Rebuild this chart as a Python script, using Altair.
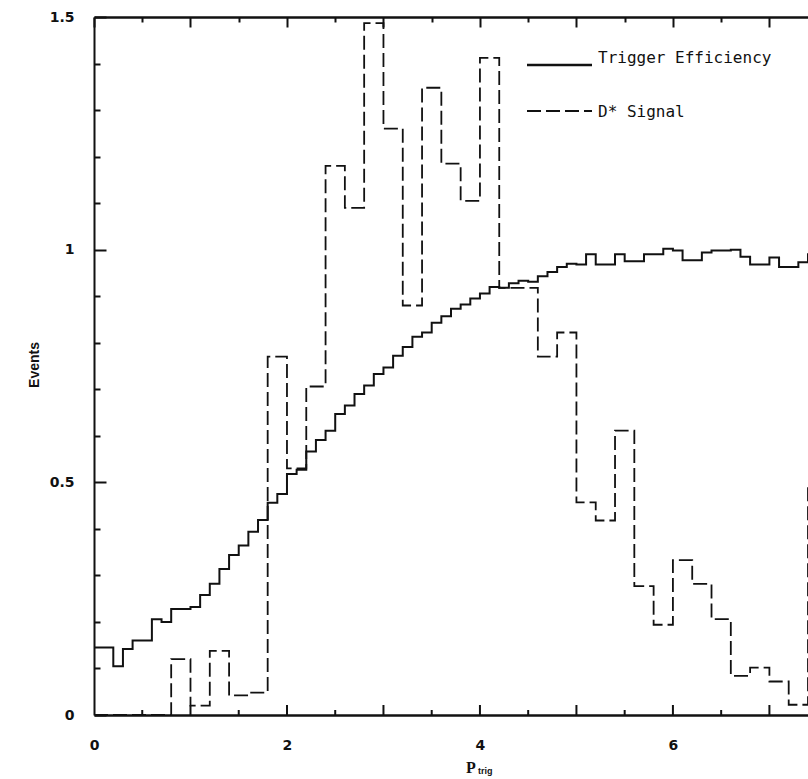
import altair as alt
import pandas as pd

# Trigger efficiency, histogram with 0.1-wide bins starting at p = 0
eff_values = [
    0.145, 0.145, 0.105, 0.142, 0.160, 0.160, 0.206, 0.200, 0.228, 0.228,
    0.232, 0.258, 0.282, 0.314, 0.344, 0.364, 0.394, 0.419, 0.456, 0.475,
    0.518, 0.527, 0.566, 0.591, 0.611, 0.647, 0.665, 0.690, 0.708, 0.733,
    0.747, 0.772, 0.791, 0.813, 0.822, 0.843, 0.857, 0.873, 0.882, 0.895,
    0.906, 0.920, 0.918, 0.928, 0.933, 0.931, 0.943, 0.952, 0.963, 0.970,
    0.968, 0.990, 0.968, 0.968, 0.990, 0.975, 0.975, 0.990, 0.990, 1.002,
    0.998, 0.977, 0.977, 0.994, 0.998, 0.998, 1.000, 0.985, 0.968, 0.968,
    0.983, 0.963, 0.963, 0.973, 0.990,
]
eff_bin = 0.1

# D* signal, histogram with 0.2-wide bins starting at p = 0
sig_values = [
    0.0, 0.0, 0.0, 0.0, 0.120, 0.020, 0.138, 0.042, 0.048, 0.770,
    0.530, 0.706, 1.180, 1.090, 1.487, 1.260, 0.880, 1.348, 1.185, 1.105,
    1.412, 0.918, 0.918, 0.770, 0.822, 0.457, 0.418, 0.611, 0.277, 0.194,
    0.333, 0.282, 0.206, 0.084, 0.102, 0.072, 0.022, 0.490,
]
sig_bin = 0.2

x_ticks = [0, 0.5, 1, 1.5, 2, 2.5, 3, 3.5, 4, 4.5, 5, 5.5, 6, 6.5, 7]
x_minor = [0.5, 1.5, 2.5, 3.5, 4.5, 5.5, 6.5]
x_major = [1, 2, 3, 4, 5, 6, 7]
x_labels = [0, 2, 4, 6]
y_ticks = [0, 0.1, 0.2, 0.3, 0.4, 0.5, 0.6, 0.7, 0.8, 0.9,
           1.0, 1.1, 1.2, 1.3, 1.4, 1.5]
y_labels = [0, 0.5, 1, 1.5]


def step_table(values, width):
    edges = [round(i * width, 3) for i in range(len(values) + 1)]
    return pd.DataFrame({"p": edges, "v": list(values) + [values[-1]]})


eff_df = step_table(eff_values, eff_bin)
sig_df = step_table(sig_values, sig_bin)

W, H = 714, 698
INK = "#111111"
Y_MAX = 1.5
x_scale = alt.Scale(domain=[0, 7.4], nice=False, zero=False)
y_scale = alt.Scale(domain=[0, Y_MAX], nice=False, zero=False)

x_tick_len = {"condition": {"test": "abs(datum.value - round(datum.value)) < 1e-6", "value": 10}, "value": 5}
y_tick_len = {"condition": {"test": "abs(datum.value * 2 - round(datum.value * 2)) < 1e-6", "value": 12}, "value": 6}

label_font = "DejaVu Sans"

# Solid efficiency histogram; carries the labelled bottom and left axes
eff_line = alt.Chart(eff_df).mark_line(
    interpolate="step-after", color=INK, strokeWidth=2, clip=True
).encode(
    x=alt.X("p:Q", scale=x_scale, axis=alt.Axis(
        orient="bottom", values=x_labels, ticks=False, tickSize=0,
        labelPadding=23, labelFont=label_font, labelFontSize=14,
        labelFontWeight="bold", labelColor=INK, labelFlush=False,
        domainColor=INK, domainWidth=2.5, grid=False, title=None)),
    y=alt.Y("v:Q", scale=y_scale, axis=alt.Axis(
        orient="left", values=y_labels, format="~g", ticks=False, tickSize=0,
        labelPadding=20, labelFont=label_font, labelFontSize=14,
        labelFontWeight="bold", labelColor=INK, labelFlush=False,
        domainColor=INK, domainWidth=2, grid=False, title=None)),
)

# Dashed D* signal histogram; carries the inward ticks on the left edge
sig_line = alt.Chart(sig_df).mark_line(
    interpolate="step-after", color=INK, strokeWidth=1.8, strokeDash=[14, 5], clip=True
).encode(
    x=alt.X("p:Q", scale=x_scale, axis=None),
    y=alt.Y("v:Q", scale=y_scale, axis=alt.Axis(
        orient="right", offset=-W, values=y_ticks, labels=False, domain=False,
        tickSize=y_tick_len, tickWidth=2, tickColor=INK, grid=False, title=None)),
)

# Top frame line with inward ticks
top_frame = alt.Chart(eff_df).mark_line(opacity=0, clip=True).encode(
    x=alt.X("p:Q", scale=x_scale, axis=alt.Axis(
        orient="bottom", offset=-H, values=x_ticks, labels=False,
        domainColor=INK, domainWidth=2.5, tickSize=x_tick_len, tickWidth=2,
        tickColor=INK, grid=False, title=None)),
    y=alt.Y("v:Q", scale=y_scale, axis=None),
)

# Inward ticks along the bottom edge (5 px minor, 10 px major)
px = Y_MAX / H
tick_df = pd.DataFrame({
    "p": x_minor + x_major,
    "top": [5 * px] * len(x_minor) + [10 * px] * len(x_major),
})
bottom_ticks = alt.Chart(tick_df).mark_rule(color=INK, strokeWidth=2).encode(
    x=alt.X("p:Q", scale=x_scale, axis=None),
    y=alt.Y("top:Q", scale=y_scale, axis=None),
    y2=alt.datum(0),
)

one = pd.DataFrame({"k": [0]})

legend_solid = alt.Chart(one).mark_rule(color=INK, strokeWidth=2.5).encode(
    x=alt.value(433), x2=alt.value(498), y=alt.value(48))
legend_dash = alt.Chart(one).mark_rule(color=INK, strokeWidth=1.8, strokeDash=[14, 5]).encode(
    x=alt.value(433), x2=alt.value(498), y=alt.value(94))
legend_text1 = alt.Chart(one).mark_text(
    align="left", baseline="middle", font="DejaVu Sans Mono", fontSize=16, color=INK
).encode(x=alt.value(504), y=alt.value(41), text=alt.value("Trigger Efficiency"))
legend_text2 = alt.Chart(one).mark_text(
    align="left", baseline="middle", font="DejaVu Sans Mono", fontSize=16, color=INK
).encode(x=alt.value(504), y=alt.value(95), text=alt.value("D* Signal"))

y_title = alt.Chart(one).mark_text(
    angle=270, align="center", baseline="middle", font="Liberation Sans",
    fontSize=14, fontWeight="bold", color=INK
).encode(x=alt.value(-59), y=alt.value(348), text=alt.value("Events"))

x_title_p = alt.Chart(one).mark_text(
    align="left", baseline="middle", font="Liberation Serif", fontSize=16,
    fontWeight="bold", color=INK
).encode(x=alt.value(372), y=alt.value(751), text=alt.value("P"))
x_title_sub = alt.Chart(one).mark_text(
    align="left", baseline="middle", font="Liberation Sans", fontSize=9,
    fontWeight="bold", color=INK
).encode(x=alt.value(384), y=alt.value(754), text=alt.value("trig"))

chart = alt.layer(
    eff_line, sig_line, top_frame, bottom_ticks,
    legend_solid, legend_dash, legend_text1, legend_text2,
    y_title, x_title_p, x_title_sub,
).resolve_axis(
    x="independent", y="independent"
).properties(
    width=W, height=H,
    autosize=alt.AutoSizeParams(type="none"),
    padding={"left": 94, "top": 17, "right": 0, "bottom": 64},
    background="white",
).configure_view(stroke=None)

chart.save("out.html", embed_options={"renderer": "svg", "actions": False})
